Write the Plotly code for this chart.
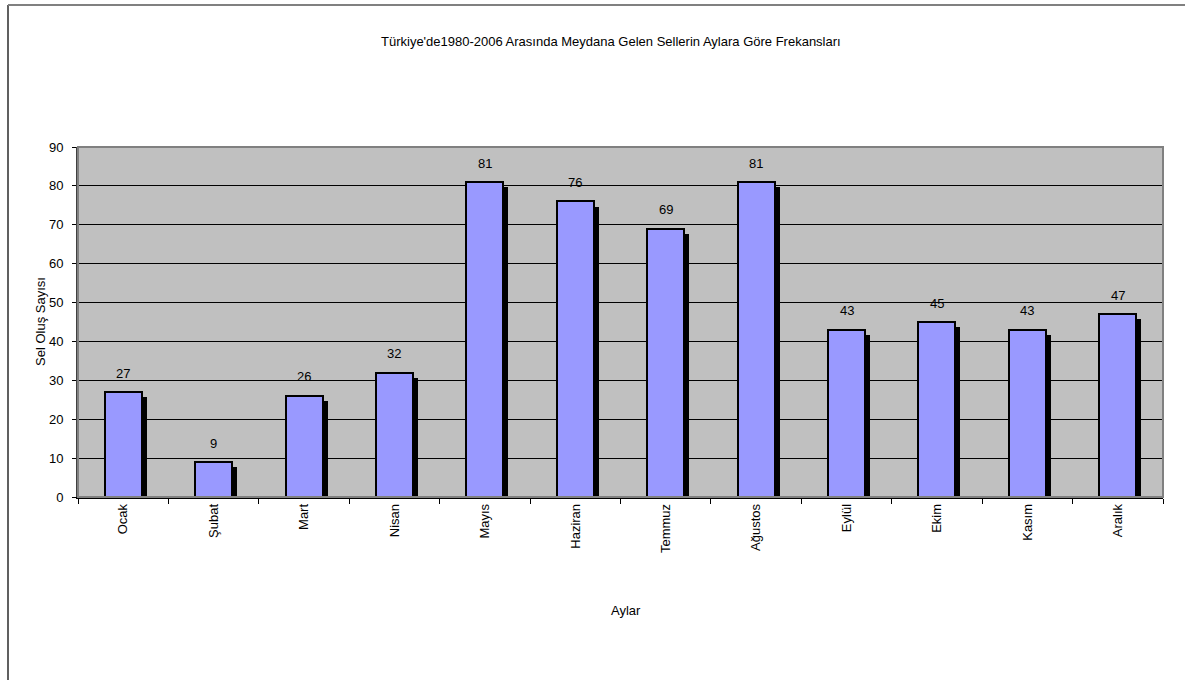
import plotly.graph_objects as go

months = ["Ocak", "Şubat", "Mart", "Nisan", "Mayıs", "Haziran", "Temmuz",
          "Ağustos", "Eylül", "Ekim", "Kasım", "Aralık"]
counts = [27, 9, 26, 32, 81, 76, 69, 81, 43, 45, 43, 47]

title_text = "Türkiye'de1980-2006 Arasında Meydana Gelen Sellerin Aylara Göre Frekansları"
x_title = "Aylar"
y_title = "Sel Oluş Sayısı"

FONT = "Arial, Liberation Sans, sans-serif"
FS = 13

fig = go.Figure()
# shadow
fig.add_trace(go.Bar(
    x=months, y=counts, base=[-1.3] * len(counts),
    width=0.41, offset=-0.15,
    marker=dict(color="black", line=dict(width=0)),
    hoverinfo="skip", showlegend=False,
))
# main bars
fig.add_trace(go.Bar(
    x=months, y=counts,
    width=0.41, offset=-0.205,
    marker=dict(color="#9999FF", line=dict(color="black", width=2)),
    hoverinfo="skip", showlegend=False,
))

annotations = []
for m, v in zip(months, counts):
    annotations.append(dict(x=m, y=v, text=str(v), showarrow=False,
                            yshift=19, font=dict(size=FS, color="black", family=FONT)))
annotations.append(dict(xref="paper", yref="paper", x=(611 - 78) / 1085, y=(497 - 42) / 350,
                        xanchor="center", yanchor="middle",
                        text=title_text, showarrow=False,
                        font=dict(size=FS, color="black", family=FONT)))
annotations.append(dict(xref="paper", yref="paper", x=(626 - 78) / 1085, y=(497 - 610) / 350,
                        xanchor="center", yanchor="middle",
                        text=x_title, showarrow=False,
                        font=dict(size=FS, color="black", family=FONT)))
annotations.append(dict(xref="paper", yref="paper", x=(40 - 78) / 1085, y=0.5,
                        xanchor="center", yanchor="middle",
                        text=y_title, showarrow=False, textangle=-90,
                        font=dict(size=FS, color="black", family=FONT)))

xl = (8 - 78) / 1085
yt = (497 - 5) / 350
shapes = [
    # outer chart border (left + top only visible)
    dict(type="line", xref="paper", yref="paper", x0=xl, x1=xl, y0=(497 - 690) / 350, y1=yt,
         line=dict(color="#606060", width=2), layer="below"),
    dict(type="line", xref="paper", yref="paper", x0=xl, x1=(1185 - 78) / 1085, y0=yt, y1=yt,
         line=dict(color="#808080", width=2), layer="below"),
    # plot area border
    dict(type="rect", xref="paper", yref="paper", x0=0, x1=1, y0=0, y1=1,
         line=dict(color="#808080", width=2), layer="above"),
]

fig.update_layout(
    width=1185, height=680,
    margin=dict(l=78, r=22, t=147, b=183),
    paper_bgcolor="white", plot_bgcolor="#C0C0C0",
    barmode="overlay", bargap=0,
    font=dict(family=FONT, size=FS, color="black"),
    annotations=annotations, shapes=shapes,
    xaxis=dict(
        tickangle=-90, ticks="outside", ticklen=5, tickcolor="black",
        tickson="boundaries", showline=True, linecolor="black", linewidth=1.5,
        showgrid=False, tickfont=dict(size=FS, family=FONT),
        ticklabelstandoff=0,
    ),
    yaxis=dict(
        range=[0, 90], dtick=10, tick0=0, ticks="outside", ticklen=4,
        tickcolor="black", showline=True, linecolor="#404040", linewidth=2,
        showgrid=True, gridcolor="black", gridwidth=1, zeroline=False,
        tickfont=dict(size=FS, family=FONT), ticklabelstandoff=6,
    ),
)

fig.write_html("out.html")
